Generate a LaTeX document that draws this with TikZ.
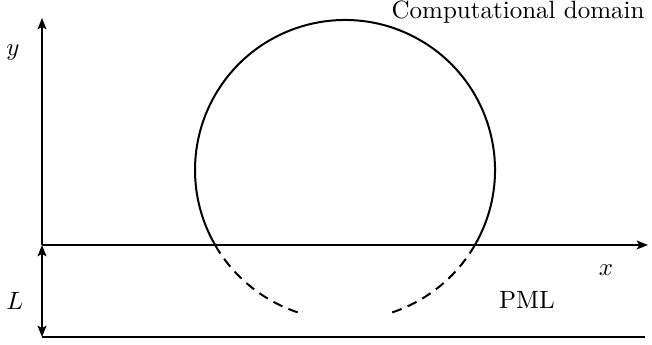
\documentclass[tikz,border=0pt]{standalone}
\usetikzlibrary{arrows.meta}
\begin{document}
\begin{tikzpicture}[x=0.4pt,y=-0.4pt,
  ln/.style={line width=0.8pt},
  arr/.style={ln,-{Stealth[length=4.5pt,width=3.5pt,inset=1pt]}},
  darr/.style={ln,{Stealth[length=4.5pt,width=3.5pt,inset=1pt]}-{Stealth[length=4.5pt,width=3.5pt,inset=1pt]}},
  dsh/.style={ln,dash pattern=on 4pt off 2.6pt}]
\useasboundingbox (0,0) rectangle (652,345);
\coordinate (O) at (42,245);
\coordinate (Ytop) at (42,18);
\coordinate (Xend) at (648,245);
\coordinate (B0) at (42,337);
\coordinate (B1) at (645,337);
\coordinate (C) at (345,170);
\draw[arr] (O) -- (Ytop);
\draw[arr] (O) -- (Xend);
\draw[ln] (B0) -- (B1);
\draw[darr] (O) -- (B0);
% circle
\draw[ln] (C) ++(30:150) arc[start angle=30,end angle=-210,radius=150];
\draw[dsh] (C) ++(150:150) arc[start angle=150,end angle=107,radius=150];
\draw[dsh] (C) ++(30:150) arc[start angle=30,end angle=73,radius=150];
\node (ylab) at (13,53) {$y$};
\node (Llab) at (15,301) {$L$};
\node (xlab) at (606,270) {$x$};
\node (pml) at (527,300) {PML};
\node[anchor=east,inner sep=0pt] (cd) at (645,12) {Computational domain};
\end{tikzpicture}
\end{document}
